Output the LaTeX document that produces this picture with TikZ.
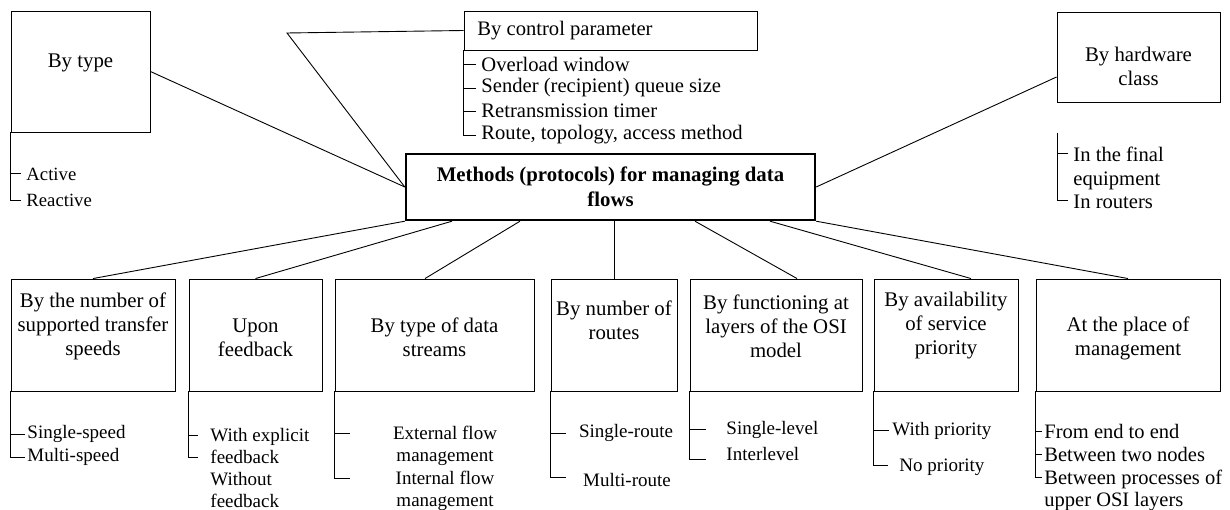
\documentclass[tikz,border=0pt]{standalone}
\usepackage{fontspec}
\setmainfont{Liberation Serif}
\begin{document}
\begin{tikzpicture}[x=1pt, y=-1pt, line width=0.9pt,
    catbox/.style={draw, inner sep=0pt},
    mainbox/.style={draw, line width=2.4pt, align=center, inner sep=0pt, font=\fontsize{20.8}{24.5}\selectfont\bfseries},
    cattitle/.style={align=center, inner sep=0pt, font=\fontsize{20.8}{24}\selectfont},
    listtext/.style={inner sep=0pt, align=left, font=\fontsize{19}{22}\selectfont},
    biglist/.style={listtext, font=\fontsize{20.6}{23.6}\selectfont}]

    \useasboundingbox (0,0) rectangle (1230,510);

    % Central node
    \node[mainbox, minimum width=409pt, minimum height=66pt] (main) at (610.5,187) {Methods (protocols) for managing data\\flows};

    % By type
    \node[catbox, minimum width=139pt, minimum height=121pt] (type) at (80.5,71.5) {}; % box
    \node[cattitle] (type-t) at (80.5,63) {By type}; % title
    \coordinate (type-a) at (21,173);
    \coordinate (type-b) at (21,200);
    \node[listtext, anchor=west, font=\fontsize{18.7}{22}\selectfont] (type-1) at (26,174) {Active};
    \node[listtext, anchor=west, font=\fontsize{18.7}{22}\selectfont] (type-2) at (26,200) {Reactive};
    \foreach \t in {type-a,type-b} \draw (type.south west) |- (\t);
    \draw (main.west) -- (type.east);

    % By control parameter
    \node[catbox, minimum width=293pt, minimum height=39pt] (ctrl) at (610.5,30.5) {}; % box
    \node[biglist, anchor=west] (ctrl-t) at (477,31) {By control parameter}; % title
    \foreach \y/\txt [count=\i] in {64/Overload window, 88/Sender (recipient) queue size, 111/Retransmission timer, 135/{Route, topology, access method}} {
        \coordinate (ctrl-\i) at (476,\y);
        \node[biglist, anchor=west] (ctrl-t\i) at (481,\y) {\txt};
        \draw (ctrl.south west) |- (ctrl-\i);
    }
    \coordinate (bend) at (287,33);
    \draw (main.west) -- (bend) -- (ctrl.west);

    % By hardware class
    \node[catbox, minimum width=163pt, minimum height=90pt] (hw) at (1138.5,57) {}; % box
    \node[cattitle] (hw-t) at (1138.5,66.5) {By hardware\\class}; % title
    \coordinate (hw-top) at (1057,133);
    \coordinate (hw-a) at (1068,153);
    \coordinate (hw-b) at (1068,200);
    \node[biglist, anchor=north west] (hw-1) at (1073,147) {In the final\\equipment};
    \node[biglist, anchor=west] (hw-2) at (1073,202) {In routers};
    \foreach \t in {hw-a,hw-b} \draw (hw-top) |- (\t);
    \draw (main.east) -- ([yshift=-20pt]hw.west);

    % Lower categories
    \foreach \n/\cx/\w/\ty/\txt in {
        b1/93/164/326/{By the number of\\supported transfer\\speeds},
        b2/255.5/133/338/{Upon\\feedback},
        b3/434.5/199/337/{By type of data\\streams},
        b4/614/126/320.5/{By number of\\routes},
        b5/776/172/326/{By functioning at\\layers of the OSI\\model},
        b6/946/144/326/{By availability\\of service\\priority},
        b7/1128/184/338/{At the place of\\management}} {
        \node[catbox, minimum width=\w, minimum height=112pt] (\n) at (\cx,335) {}; % box
        \node[cattitle] (\n-t) at (\cx,\ty) {\txt}; % title
    }

    % Connections to the lower categories
    \draw (main.south west) -- (b1.north);
    \draw ([xshift=-158.5pt]main.south) -- (b2.north);
    \draw ([xshift=-90.5pt]main.south) -- ([xshift=-9.5pt]b3.north);
    \draw (b4.north |- main.south) -- (b4.north);
    \draw ([xshift=84.5pt]main.south) -- ([xshift=21pt]b5.north);
    \draw ([xshift=159.5pt]main.south) -- ([xshift=25pt]b6.north);
    \draw (main.south east) -- (b7.north);

    % Transfer speeds
    \coordinate (b1-a) at (25,434);
    \coordinate (b1-b) at (25,457);
    \node[listtext, anchor=west] (b1-1) at (27,434) {Single-speed};
    \node[listtext, anchor=west] (b1-2) at (27,457) {Multi-speed};
    \foreach \t in {b1-a,b1-b} \draw (b1.south west) |- (\t);

    % Feedback
    \coordinate (b2-a) at (198,435);
    \coordinate (b2-b) at (198,457);
    \node[listtext, anchor=north west] (b2-1) at (210,428) {With explicit\\feedback};
    \node[listtext, anchor=north west] (b2-2) at (210,472) {Without\\feedback};
    \foreach \t in {b2-a,b2-b} \draw (b2.south west) |- (\t);

    % Data streams
    \coordinate (b3-a) at (350,433);
    \coordinate (b3-b) at (350,478);
    \node[listtext, align=center, anchor=north] (b3-1) at (445,426) {External flow\\management};
    \node[listtext, align=center, anchor=north] (b3-2) at (445,471) {Internal flow\\management};
    \foreach \t in {b3-a,b3-b} \draw (b3.south west) |- (\t);

    % Routes
    \coordinate (b4-a) at (566,433);
    \coordinate (b4-b) at (566,477);
    \node[listtext] (b4-1) at (626,433) {Single-route};
    \node[listtext] (b4-2) at (627,480) {Multi-route};
    \foreach \t in {b4-a,b4-b} \draw (b4.south west) |- (\t);

    % OSI layers
    \coordinate (b5-a) at (706,429);
    \coordinate (b5-b) at (706,459);
    \node[listtext, anchor=west] (b5-1) at (726,430) {Single-level};
    \node[listtext, anchor=west] (b5-2) at (726,454) {Interlevel};
    \foreach \t in {b5-a,b5-b} \draw (b5.south west) |- (\t);

    % Service priority
    \coordinate (b6-a) at (889,430);
    \coordinate (b6-b) at (888,465);
    \node[listtext, anchor=west] (b6-1) at (892,431) {With priority};
    \node[listtext, anchor=west] (b6-2) at (899,467) {No priority};
    \foreach \t in {b6-a,b6-b} \draw (b6.south west) |- (\t);

    % Place of management
    \coordinate (b7-a) at (1042,431);
    \coordinate (b7-b) at (1042,454);
    \coordinate (b7-c) at (1042,477);
    \node[biglist, anchor=west, font=\fontsize{20.5}{22}\selectfont] (b7-1) at (1044,431) {From end to end};
    \node[biglist, anchor=west, font=\fontsize{20.5}{22}\selectfont] (b7-2) at (1044,454) {Between two nodes};
    \node[biglist, anchor=north west, font=\fontsize{20.5}{22}\selectfont] (b7-3) at (1044,470) {Between processes of\\upper OSI layers};
    \foreach \t in {b7-a,b7-b,b7-c} \draw (b7.south west) |- (\t);

\end{tikzpicture}
\end{document}
